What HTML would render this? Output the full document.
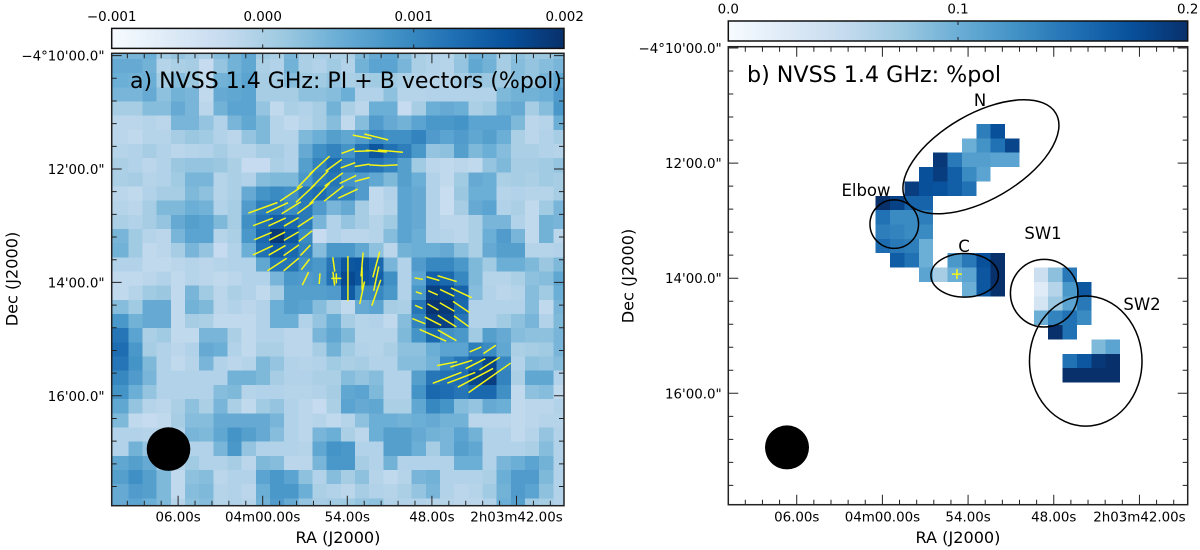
<!DOCTYPE html>
<html lang="en">
<head>
<meta charset="utf-8">
<title>NVSS 1.4 GHz polarization maps</title>
<style>
html,body{margin:0;padding:0;background:#fff;width:1200px;height:550px;overflow:hidden}
svg{display:block;font-family:"DejaVu Sans","Liberation Sans",sans-serif}
</style>
</head>
<body>
<svg id="fig" xmlns="http://www.w3.org/2000/svg" width="1200" height="550" viewBox="0 0 1200 550">
<defs>
<linearGradient id="blues" x1="0" x2="1" y1="0" y2="0">
<stop offset="0" stop-color="#f7fbff"/><stop offset="0.125" stop-color="#deebf7"/><stop offset="0.25" stop-color="#c6dbef"/><stop offset="0.375" stop-color="#9ecae1"/><stop offset="0.5" stop-color="#6baed6"/><stop offset="0.625" stop-color="#4292c6"/><stop offset="0.75" stop-color="#2171b5"/><stop offset="0.875" stop-color="#08519c"/><stop offset="1" stop-color="#08306b"/>
</linearGradient>
<clipPath id="clipA"><rect x="111.7" y="53.3" width="452.3" height="452.4"/></clipPath>
<clipPath id="clipB"><rect x="728.3" y="46.7" width="459.4" height="458"/></clipPath>
</defs>
<g id="panelA"></g>
<g id="panelB"></g>
</svg>
<script>
// ---------- data ----------
const colorStops = ['#f7fbff','#deebf7','#c6dbef','#9ecae1','#6baed6','#4292c6','#2171b5','#08519c','#08306b'];
const raTickSeconds = [66, 60, 54, 48, 42];
const raTickLabels = ['06.00s', '04m00.00s', '54.00s', '48.00s', '2h03m42.00s'];
const decTickMinutes = [10, 12, 14, 16];
const decTickLabels = ['\u22124°10\'00.0"', '12\'00.0"', '14\'00.0"', '16\'00.0"'];
const piBarTicks = [-0.001, 0, 0.001, 0.002];
const piBarLabels = ['\u22120.001', '0.000', '0.001', '0.002'];
const polBarTicks = [0, 0.1, 0.2];
const polBarLabels = ['0.0', '0.1', '0.2'];
const sourceRA = 54.78;
const sourceDec = 13.93;
const beamRA = 66.68;
const beamDec = 16.94;

// panel a: polarized intensity in mJy/beam, rows top to bottom
const piRows = [
[.4,.4,.5,.1,.2,.1,0,.3,.45,.6,.1,0,.4,0,0,0,0,.35,.55,.6,.3,0,-.05,-.1,.15,.5,.4,.05,.25,.15,.15,.3],
[.55,.55,.45,-.1,0,.05,-.25,.2,.45,.6,0,-.05,.45,0,-.05,.1,-.05,.45,.65,.65,.4,0,-.05,-.1,.2,.6,.45,.05,.3,.2,.3,.4],
[.5,.45,.5,.05,.3,.15,-.2,.45,.5,.65,.05,.05,.3,.1,.1,.2,0,.05,.1,.1,0,-.05,-.1,-.1,.05,.2,.15,.1,.3,.2,.4,.6],
[.4,.4,.55,.25,.45,.4,-.2,.55,.6,.65,.05,.05,.05,.25,.25,.3,.5,-.05,-.05,.25,-.1,-.1,-.05,-.05,-.05,-.05,-.05,.35,.45,.45,.5,.75],
[.05,.05,.3,.3,.55,.4,-.15,.45,.65,.65,.2,-.2,0,-.05,.05,.45,0,-.15,.5,.5,-.25,.05,.5,.55,.5,0,.1,.5,.55,.05,.3,.8],
[-.15,-.15,-.1,-.15,.4,.4,.2,-.05,.4,.6,.35,-.1,-.2,-.1,.05,.3,-.2,.3,.75,.55,.45,.65,.8,.8,.85,.65,.65,.65,.35,-.15,-.1,.5],
[-.15,-.2,-.1,-.1,.05,.15,.1,-.05,-.15,.2,.35,-.1,-.1,.35,.5,.7,.6,.75,1,.9,.9,1.05,.75,.65,.75,.6,.7,.5,0,-.15,-.05,.05],
[-.1,-.05,.05,-.05,-.15,-.1,-.05,.05,-.1,-.1,.05,.05,-.05,.55,.9,1.05,.85,1.25,1.55,1.25,1.1,.8,.2,.25,.7,.35,.5,.3,0,0,-.05,-.1],
[0,-.05,-.15,-.05,.15,.2,.2,.15,0,-.25,-.25,0,-.05,.7,1.05,1.3,1.1,1.25,1.2,1.05,.7,.1,-.15,-.2,-.15,-.2,.2,.35,.05,.05,.1,.2],
[0,.05,-.1,-.05,.1,.4,.4,-.1,0,-.05,.3,.35,.35,.8,1.1,1.2,.85,.75,.6,.35,.7,.5,-.05,-.2,.1,.55,.5,0,.05,0,.1,.05],
[-.15,-.2,-.05,.05,.05,.35,.25,-.1,0,.55,.85,.95,.9,1.2,1.3,1.1,1.05,.75,-.2,-.05,.65,.55,-.05,-.3,.15,.5,.5,-.1,-.05,-.1,-.1,.05],
[-.1,-.15,.05,.35,.35,.5,.45,-.05,.05,.75,1.1,1.15,.95,1.15,.75,.4,.55,.05,-.2,-.1,.65,.55,-.05,-.3,.05,.55,.65,-.05,0,-.2,.1,.4],
[0,-.05,.05,.2,.55,.7,.65,.35,.05,.9,1.25,1.45,1.35,1.15,.4,-.05,.2,.05,-.1,.1,.65,.55,-.05,-.15,-.15,0,.4,.4,-.05,-.2,.45,.4],
[.4,.1,-.1,-.15,.4,.65,.65,-.1,0,.8,1.35,1.9,1.55,.95,-.25,-.05,-.15,-.15,-.1,.3,.65,.5,-.05,-.1,-.15,0,.5,.75,.4,-.2,.45,-.15],
[.45,.1,-.2,-.15,.05,.4,.2,-.25,-.05,.5,1.25,1.5,1.35,1.05,.3,.8,.8,.6,.25,-.15,.45,.5,.5,.55,.25,0,.55,.7,.7,-.1,-.1,-.05],
[-.05,-.05,-.2,-.2,-.15,-.1,-.15,-.1,-.05,-.05,.6,1.2,1.2,.9,.8,1.2,1.55,1.6,1.35,.4,-.05,.75,1,1,.8,.35,.1,.5,.5,.35,.15,.35],
[-.2,-.2,-.15,-.05,-.2,-.1,-.15,-.2,-.15,-.05,-.05,.4,.8,.75,.8,1.25,1.7,1.55,1.45,.9,-.05,.65,1.45,1.35,1,.35,-.1,-.1,0,.25,.3,.6],
[-.2,-.1,.1,.15,-.2,.4,.1,-.15,0,-.05,-.2,.05,.7,.7,.7,.75,1.5,1,1,.8,-.05,.8,1.8,1.7,1.4,.3,-.05,-.15,-.1,.3,.1,.5],
[.3,.1,.55,.55,-.2,.45,.35,-.15,-.05,-.15,-.05,.5,.7,.65,.3,.05,-.2,.55,.65,.05,0,1.2,1.95,1.9,1.35,-.05,-.05,-.05,-.05,.3,-.2,.4],
[.8,.45,.55,.55,-.2,.05,0,-.2,-.2,-.2,-.05,.5,.5,-.05,.2,.5,.05,-.1,-.05,-.2,.3,1.05,1.8,1.8,1.2,-.05,-.05,.1,.25,.4,-.05,.35],
[1.2,.65,0,.1,-.2,-.2,.4,.4,0,-.2,-.05,-.05,-.15,-.15,.4,.6,.35,-.1,-.1,-.1,.35,.85,1.35,.9,.8,.1,.7,.55,.3,.25,.25,.4],
[1.3,.8,.05,-.05,-.15,-.05,.55,.5,-.05,-.2,0,0,-.15,-.15,.05,.45,.1,-.05,-.1,0,.25,.25,.5,.65,.65,1.1,.95,.6,0,.05,.1,.4],
[1.2,.85,.35,-.05,-.2,-.1,.4,-.05,-.15,-.1,.35,.2,-.05,-.1,-.05,.1,0,.05,-.05,-.05,.3,.3,.45,1,1.2,1.4,1.75,1,-.05,.25,.2,.3],
[1,.75,.4,-.05,-.05,-.05,-.05,-.05,.45,.45,.35,.05,-.05,-.05,0,0,.3,.2,.3,-.05,-.05,.7,1.2,1.25,1.3,1.75,1.85,1.05,0,.6,.6,-.05],
[.85,.5,.2,-.05,-.05,-.05,-.05,.3,.35,-.1,-.05,-.05,-.1,-.1,-.05,.05,.6,.65,.35,-.05,-.05,.85,1.35,1.3,1.2,1.35,1.35,.9,-.2,.25,.3,-.2],
[.6,.2,-.1,-.15,0,.25,0,.4,0,-.2,.1,.2,-.05,-.15,-.25,0,.65,.55,.6,0,0,.6,1,.85,.3,.2,.55,.5,-.2,-.15,-.15,-.05],
[.35,-.2,-.25,-.2,.05,.3,.3,.55,.55,.55,.55,.4,-.05,-.15,-.1,-.2,-.1,.25,.5,.5,.45,.5,.55,.45,.45,-.15,-.15,-.15,-.2,-.15,-.1,-.1],
[-.05,-.05,-.1,-.1,-.05,.4,.35,.6,.85,.7,.55,.3,-.05,-.15,.4,.5,0,-.15,.5,.7,.7,.55,.45,.4,.65,.45,-.05,-.05,-.2,-.1,.2,-.05],
[-.05,.45,.2,.1,-.05,-.05,-.05,.4,.8,.2,-.05,-.05,-.05,-.1,.6,.85,.8,-.05,-.05,.7,.7,.5,.05,.4,.7,.6,-.05,-.05,-.05,0,.3,-.05],
[.6,.7,.55,.1,-.05,.1,-.05,-.05,.05,-.15,.35,.3,-.15,-.15,.4,.8,.8,.05,-.05,.45,-.05,-.05,-.05,-.05,.5,.5,-.05,.4,.5,.65,.45,-.05],
[.7,.9,.7,.35,-.2,.25,.3,-.15,-.05,-.05,.65,.8,.65,.25,-.05,.3,.05,.25,-.1,-.2,-.1,.4,.45,-.05,-.05,-.05,0,.5,.75,.75,.35,-.05],
[.55,.75,.7,.35,-.2,.3,.35,-.1,-.05,-.15,.5,.8,.8,.5,0,-.05,-.15,.05,-.05,-.1,0,.2,.4,-.05,-.15,-.1,.1,.45,.75,.65,.25,-.05],
[.55,.65,.5,.35,-.1,.25,.3,-.1,-.05,-.1,.45,.75,.55,.2,.05,.1,.1,.2,.25,-.05,-.05,-.05,-.1,-.1,-.15,-.15,-.05,.5,.7,.1,.05,-.05]
];

// panel a: B vectors on the image grid
const vecCol = [21,22,23,21,22,23,24,21,22,23,24,21,22,23,24,22,23,16,17,17,17,18,18,18,15,15,14,13,13,13,13,13,13,13,12,10,11,12,10,11,12,10,11,12,10,11,12,11,12,17,18,16,17,18,19,16,17,18,19,15,14,13,14,15,16,17,14,15,16,25,26,23,24,25,26,23,24,25,26];
const vecRow = [16,16,16,17,17,17,17,18,18,18,18,19,19,19,19,20,20,16,15,16,17,15,16,17,15,16,16,16,15,14,13,12,11,10,10,11,11,11,12,12,12,13,13,13,14,14,14,15,15,6,6,7,7,7,7,8,8,8,8,8,8,9,9,9,9,9,10,10,10,21,21,22,22,22,22,23,23,23,23];
const vecPol = [.034,.054,.08,.025,.042,.063,.092,.033,.051,.068,.08,.056,.074,.088,.072,.116,.086,.18,.096,.092,.092,.106,.1,.11,.058,.056,.043,.058,.054,.058,.068,.074,.08,.104,.108,.124,.096,.09,.084,.076,.068,.076,.072,.068,.088,.078,.075,.092,.08,.076,.098,.055,.064,.084,.1,.062,.06,.057,.057,.08,.108,.099,.1,.09,.074,.061,.115,.098,.086,.051,.06,.082,.092,.088,.096,.123,.12,.16,.206];
const vecAngle = [-11,-16,-17,-18,-24,-25,-25,-23,-30,-30,-34,-22,-27,-32,-36,-24,-30,90,85,90,78,75,78,71,98,97,86,64,52,46,38,33,36,43,34,20,25,32,21,25,30,23,27,30,25,30,35,33,40,-11,-14,20,2,-5,-5,20,9,-3,3,36,42,46,45,36,26,15,46,38,25,23,34,11,17,27,32,21,21,28,35];

// panel b: fractional polarization on its image grid, null = blanked
const polRows = [
[null,null,null,null,null,null,null,.14,.176,null,null,null,null,null,null,null,null],
[null,null,null,null,null,null,.10,.124,.15,.184,null,null,null,null,null,null,null],
[null,null,null,null,.194,.144,.114,.114,.11,.11,null,null,null,null,null,null,null],
[null,null,null,.176,.19,.164,.13,.11,null,null,null,null,null,null,null,null,null],
[null,null,.19,.176,.174,.164,.15,null,null,null,null,null,null,null,null,null,null],
[.2,.186,.16,.16,null,null,null,null,null,null,null,null,null,null,null,null,null],
[.15,.13,.13,.14,null,null,null,null,null,null,null,null,null,null,null,null,null],
[.14,.136,.13,.13,null,null,null,null,null,null,null,null,null,null,null,null,null],
[.154,.144,.14,.10,null,null,null,null,null,null,null,null,null,null,null,null,null],
[null,.166,.15,.10,null,.12,.144,.176,.2,null,null,null,null,null,null,null,null],
[null,null,null,.11,.07,.10,.11,.17,.2,null,null,.044,.084,.144,null,null,null],
[null,null,null,null,null,null,.10,.17,.2,null,null,.024,.06,.12,.17,null,null],
[null,null,null,null,null,null,null,null,null,null,null,.036,.076,.11,.144,null,null],
[null,null,null,null,null,null,null,null,null,null,null,.10,.136,.15,.13,null,null],
[null,null,null,null,null,null,null,null,null,null,null,null,.2,.15,null,null,null],
[null,null,null,null,null,null,null,null,null,null,null,null,null,null,null,.09,.11],
[null,null,null,null,null,null,null,null,null,null,null,null,null,.15,.17,.194,.2],
[null,null,null,null,null,null,null,null,null,null,null,null,null,.2,.2,.2,.2]
];

// panel b: region ellipses in RA seconds / Dec arcmin
const regionNames = ['n','elbow','c','sw1','sw2'];
const regionRA = [53.1,59.17,54.24,48.67,45.76];
const regionDec = [11.89,13.06,13.95,14.26,15.44];
const regionMajor = [1.505,.422,.586,.587,.978];
const regionMinor = [.744,.422,.379,.587,1.13];
const regionTilt = [-30,0,0,0,0];

// ---------- helpers ----------
const NS = 'http://www.w3.org/2000/svg';
function make(parent, tag, attrs, text){
  const el = document.createElementNS(NS, tag);
  for (const k in attrs) el.setAttribute(k, attrs[k]);
  if (text !== undefined) el.textContent = text;
  parent.appendChild(el);
  return el;
}
function hexRgb(h){return [parseInt(h.slice(1,3),16),parseInt(h.slice(3,5),16),parseInt(h.slice(5,7),16)];}
function blues(t){
  t = Math.max(0, Math.min(1, t));
  const p = t * (colorStops.length - 1), i = Math.min(Math.floor(p), colorStops.length - 2), f = p - i;
  const a = hexRgb(colorStops[i]), b = hexRgb(colorStops[i + 1]);
  return 'rgb(' + a.map((v, k) => Math.round(v + (b[k] - v) * f)).join(',') + ')';
}

// ---------- axis functions ----------
const frameA = {l:111.7, t:53.3, r:564, b:505.7};
const frameB = {l:728.3, t:46.7, r:1187.7, b:504.7};
const xA = s => 262.7 - (s - 60) * 14.1;
const yA = m => 55.6 + (m - 10) * 56.7;
const xB = s => 882.4 - (s - 60) * 14.28;
const yB = m => 48 + (m - 10) * 57.55;
const barA = v => 262.7 + v * 151000;
const barB = v => 728.3 + v / 0.2 * 459.4;
const colEdgeA = c => c <= 0 ? frameA.l : Math.min(frameA.r, 128.3 + (c - 1) * 14.17);
const rowEdgeA = r => r <= 0 ? frameA.t : Math.min(frameA.b, 59 + (r - 1) * 14.17);
const colCenterA = c => 128.3 + (c - 0.5) * 14.17;
const rowCenterA = r => 59 + (r - 0.5) * 14.17;
const colEdgeB = i => 875.7 + i * 14.37;
const rowEdgeB = j => 124 + j * 14.36;
const piColor = v => blues((v + 1) / 3);
const polColor = v => blues(v / 0.2);
const vecPixelsPerUnit = 250;
const arcminPxB = 57.55;

const gA = document.getElementById('panelA');
const gB = document.getElementById('panelB');

// ---------- panel a image ----------
const heatA = make(gA, 'g', {'shape-rendering':'crispEdges'});


piRows.forEach((row, r) => row.forEach((v, c) => {
  const x0 = colEdgeA(c), x1 = colEdgeA(c + 1), y0 = rowEdgeA(r), y1 = rowEdgeA(r + 1);
  const cell = make(heatA, 'rect', {x:x0, y:y0, width:x1 - x0, height:y1 - y0, fill:piColor(v)});
  
  
}));

// ---------- panel b image ----------
const heatB = make(gB, 'g', {'shape-rendering':'crispEdges'});


polRows.forEach((row, j) => row.forEach((v, i) => {
  if (v === null) return;
  const cell = make(heatB, 'rect', {x:colEdgeB(i), y:rowEdgeB(j), width:colEdgeB(i + 1) - colEdgeB(i), height:rowEdgeB(j + 1) - rowEdgeB(j), fill:polColor(v)});
  
  
}));

// ---------- vectors ----------
const vecGroup = make(gA, 'g', {stroke:'#f5f516','stroke-width':1.5,'clip-path':'url(#clipA)'});


vecCol.forEach((c, k) => {
  const cx = colCenterA(c), cy = rowCenterA(vecRow[k]);
  const half = vecPol[k] * vecPixelsPerUnit / 2, ang = vecAngle[k] * Math.PI / 180;
  const dx = Math.cos(ang) * half, dy = Math.sin(ang) * half;
  const seg = make(vecGroup, 'line', {x1:cx - dx, y1:cy + dy, x2:cx + dx, y2:cy - dy});
  
  
});

// ---------- regions ----------
const regionGroup = make(gB, 'g', {fill:'none', stroke:'#000', 'stroke-width':1.5});


regionNames.forEach((name, k) => {
  const cx = xB(regionRA[k]), cy = yB(regionDec[k]);
  const ell = make(regionGroup, 'ellipse', {cx:cx, cy:cy, rx:regionMajor[k] * arcminPxB, ry:regionMinor[k] * arcminPxB, transform:'rotate(' + regionTilt[k] + ' ' + cx + ' ' + cy + ')'});
  
  
});

// ---------- shared decorations ----------
function decorate(g, f, xf, yf, beamR, barY, barX, barTicks, barLabels, yLabelX){
  // source marker
  const px = xf(sourceRA), py = yf(sourceDec);
  const plus = make(g, 'path', {d:'M' + (px - 5) + ' ' + py + 'H' + (px + 5) + 'M' + px + ' ' + (py - 5) + 'V' + (py + 5), stroke:'#f5f516', 'stroke-width':1.5, fill:'none'});
  
  
  // beam
  const beam = make(g, 'circle', {cx:xf(beamRA), cy:yf(beamDec), r:beamR, fill:'#000'});
  
  
  // ticks
  let d = '';
  for (let s = 69.6; s > 39; s -= 1.2) {
    const major = raTickSeconds.some(t => Math.abs(t - s) < 0.01);
    const x = xf(s), len = major ? 10 : 5;
    d += 'M' + x + ' ' + f.b + 'v' + (-len) + 'M' + x + ' ' + f.t + 'v' + len;
  }
  for (let m = 10; m < 17.8; m += 0.4) {
    const major = decTickMinutes.some(t => Math.abs(t - m) < 0.01);
    const y = yf(m), len = major ? 10 : 5;
    d += 'M' + f.l + ' ' + y + 'h' + len + 'M' + f.r + ' ' + y + 'h' + (-len);
  }
  const ticks = make(g, 'path', {d:d, stroke:'#222', 'stroke-width':1, fill:'none'});
  
  
  // frame
  const frame = make(g, 'rect', {x:f.l, y:f.t, width:f.r - f.l, height:f.b - f.t, fill:'none', stroke:'#222', 'stroke-width':1.5});
  
  
  // tick labels
  raTickSeconds.forEach((s, k) => {
    const t = make(g, 'text', {x:xf(s), y:521.5, 'font-size':13.4, 'text-anchor': 'middle', fill:'#000'}, raTickLabels[k]);
    
    
  });
  decTickMinutes.forEach((m, k) => {
    const t = make(g, 'text', {x:yLabelX, y:yf(m) + 5, 'font-size':13.4, 'text-anchor':'end', fill:'#000'}, decTickLabels[k]);
    
    
  });
  // colorbar
  const bar = make(g, 'rect', {x:f.l, y:barY, width:f.r - f.l, height:20, fill:'url(#blues)', stroke:'#111', 'stroke-width':1.5});
  
  
  barTicks.forEach((v, k) => {
    const x = barX(v);
    if (k > 0 && k < barTicks.length - 1) {
      const tk = make(g, 'path', {d:'M' + x + ' ' + barY + 'v4M' + x + ' ' + (barY + 20) + 'v-4', stroke:'#222', 'stroke-width':1, fill:'none'});
      
      
    }
    const t = make(g, 'text', {x:x, y:barY - 7.5, 'font-size':13.4, 'text-anchor':'middle', fill:'#000'}, barLabels[k]);
    
    
  });
}
decorate(gA, frameA, xA, yA, 21.8, 28.4, barA, piBarTicks, piBarLabels, 104.5);
decorate(gB, frameB, xB, yB, 22, 21, barB, polBarTicks, polBarLabels, 721.7);
</script>
<svg style="position:absolute;left:0;top:0" width="1200" height="550" viewBox="0 0 1200 550" xmlns="http://www.w3.org/2000/svg">
<text x="130" y="88" font-size="22.05" fill="#000" font-family="DejaVu Sans">a) NVSS 1.4 GHz: PI + B vectors (%pol)</text>
<text x="747" y="82" font-size="22.2" fill="#000" font-family="DejaVu Sans">b) NVSS 1.4 GHz: %pol</text>
<text x="338" y="543" font-size="16.1" text-anchor="middle" font-family="DejaVu Sans">RA (J2000)</text>
<text x="958" y="543" font-size="16.1" text-anchor="middle" font-family="DejaVu Sans">RA (J2000)</text>
<text transform="translate(17.5 279) rotate(-90)" font-size="16.1" text-anchor="middle" font-family="DejaVu Sans">Dec (J2000)</text>
<text transform="translate(633.5 276) rotate(-90)" font-size="16.1" text-anchor="middle" font-family="DejaVu Sans">Dec (J2000)</text>
<text x="980" y="106" font-size="16.5" text-anchor="middle" font-family="DejaVu Sans">N</text>
<text x="866" y="196" font-size="16.5" text-anchor="middle" font-family="DejaVu Sans">Elbow</text>
<text x="964" y="252" font-size="16.5" text-anchor="middle" font-family="DejaVu Sans">C</text>
<text x="1043" y="239" font-size="16.5" text-anchor="middle" font-family="DejaVu Sans">SW1</text>
<text x="1142" y="310" font-size="16.5" text-anchor="middle" font-family="DejaVu Sans">SW2</text>
</svg>
</body>
</html>
